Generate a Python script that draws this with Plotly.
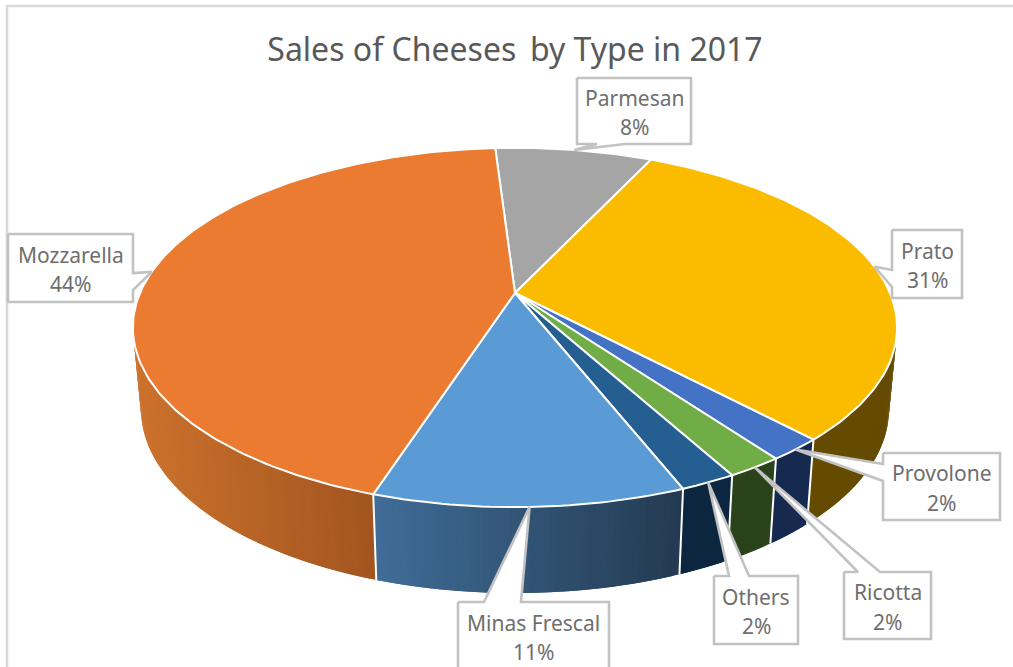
import numpy as np
import plotly.graph_objects as go

# Cheese sales shares, clockwise starting with Parmesan
cheeses = ["Parmesan", "Prato", "Provolone", "Ricotta", "Others", "Minas Frescal", "Mozzarella"]
shares = [8, 31, 2, 2, 2, 11, 44]

top_colors = ["#A5A5A5", "#FBBC00", "#4472C4", "#70AD47", "#255E91", "#5B9BD5", "#EB7B30"]
# Side wall colours: shade at the left and right end of each slice's visible wall
wall_colors = [
    ("#666666", "#666666"),
    ("#644B00", "#644B00"),
    ("#162A4F", "#162A4F"),
    ("#2A431B", "#2A431B"),
    ("#0D2640", "#0D2640"),
    ("#406D98", "#233A51"),
    ("#CC722D", "#A2551F"),
]

# Callout boxes (left, top, right, bottom) and where each tail meets its box
callout_boxes = {
    "Parmesan": (577, 78, 691, 144),
    "Prato": (892, 230, 962, 298),
    "Provolone": (883, 453, 1000, 520),
    "Ricotta": (844, 572, 931, 639),
    "Others": (714, 576, 798, 644),
    "Minas Frescal": (458, 602, 609, 670),
    "Mozzarella": (8, 234, 133, 302),
}
callout_tails = {
    "Parmesan": ("bottom", 597, 625),
    "Prato": ("left", 270, 287),
    "Provolone": ("left", 464, 481),
    "Ricotta": ("top", 858, 880),
    "Others": ("top", 729, 749),
    "Minas Frescal": ("top", 484, 521),
    "Mozzarella": ("right", 273, 290),
}

START_ANGLE = -3.6
CENTER_X = 515
TOP_Y, TOP_RX, TOP_RY = 293, 375, 173
BASE_Y, BASE_RX, BASE_RY = 374, 367, 177
TILT = 0.192
WALL_LIMIT = 101  # walls are visible between this angle and its mirror


def project(angle_deg, cy, rx, ry, radius=1.0):
    """Perspective projection of a point on the pie's disc, clockwise from the back."""
    a = np.radians(angle_deg)
    x, y = radius * np.sin(a), -radius * np.cos(a)
    d = 1 - TILT * y
    return CENTER_X + rx * x / d, cy + ry * y / d


def top_point(angle):
    return project(angle, TOP_Y, TOP_RX, TOP_RY)


def base_point(angle):
    return project(angle, BASE_Y, BASE_RX, BASE_RY)


def mix(c0, c1, t):
    a = [int(c0[i:i + 2], 16) for i in (1, 3, 5)]
    b = [int(c1[i:i + 2], 16) for i in (1, 3, 5)]
    return "rgb(%d,%d,%d)" % tuple(round(p + (q - p) * t) for p, q in zip(a, b))


def polygon(xs, ys, fill, line_color, line_width):
    return go.Scatter(
        x=list(xs), y=list(ys), mode="lines", fill="toself", fillcolor=fill,
        line=dict(color=line_color, width=line_width), hoverinfo="skip", showlegend=False,
    )


edges = START_ANGLE + np.concatenate([[0], np.cumsum(shares)]) * 3.6
fig = go.Figure()

# Side walls, built from strips that overlap the next one so no seams show
for i in range(len(shares)):
    lo = max(edges[i], WALL_LIMIT)
    hi = min(edges[i + 1], 360 - WALL_LIMIT)
    if hi <= lo:
        continue
    steps = np.linspace(lo, hi, max(2, int((hi - lo) * 1.2) + 2))
    sx = [base_point(a)[0] for a in (lo, hi)]
    x_left, x_right = min(sx), max(sx)
    for j in range(len(steps) - 1):
        a0, a1 = steps[j], steps[min(j + 2, len(steps) - 1)]
        mid_x = base_point((steps[j] + steps[j + 1]) / 2)[0]
        col = mix(*wall_colors[i], (mid_x - x_left) / max(x_right - x_left, 1))
        t0, t1, b1, b0 = top_point(a0), top_point(a1), base_point(a1), base_point(a0)
        fig.add_trace(polygon(
            [t0[0], t1[0], b1[0], b0[0], t0[0]],
            [t0[1], t1[1], b1[1], b0[1], t0[1]],
            col, col, 0,
        ))

# White separators between neighbouring walls
for e in edges:
    if WALL_LIMIT < e < 360 - WALL_LIMIT:
        t, b = top_point(e), base_point(e)
        fig.add_trace(go.Scatter(
            x=[t[0], b[0]], y=[t[1], b[1]], mode="lines",
            line=dict(color="white", width=2), hoverinfo="skip", showlegend=False,
        ))

# Top face of the pie
for i in range(len(shares)):
    arc = np.linspace(edges[i], edges[i + 1], int(shares[i] * 3.6) + 2)
    pts = [top_point(a) for a in arc]
    xs = [CENTER_X] + [p[0] for p in pts] + [CENTER_X]
    ys = [TOP_Y] + [p[1] for p in pts] + [TOP_Y]
    fig.add_trace(polygon(xs, ys, top_colors[i], "white", 2))

# Callouts whose tails point at the middle of each slice's rim
annotations = []
for i, name in enumerate(cheeses):
    left, top, right, bottom = callout_boxes[name]
    side, p, q = callout_tails[name]
    tip = top_point((edges[i] + edges[i + 1]) / 2)
    if side == "top":
        path = [(left, top), (p, top), tip, (q, top), (right, top), (right, bottom), (left, bottom)]
    elif side == "bottom":
        path = [(left, top), (right, top), (right, bottom), (q, bottom), tip, (p, bottom), (left, bottom)]
    elif side == "left":
        path = [(left, top), (right, top), (right, bottom), (left, bottom), (left, q), tip, (left, p)]
    else:
        path = [(left, top), (right, top), (right, p), tip, (right, q), (right, bottom), (left, bottom)]
    path.append(path[0])
    fig.add_trace(polygon([v[0] for v in path], [v[1] for v in path], "white", "#C2C2C2", 2.6))

    cx, cy = (left + right) / 2, (top + bottom) / 2
    for text, dy in ((name, -13.5), (f"{shares[i]}%", 16)):
        annotations.append(dict(
            x=cx, y=cy + dy, xref="x", yref="y", text=text, showarrow=False,
            xanchor="center", yanchor="middle",
            font=dict(family="Noto Sans", size=21, color="#6E6E6E"),
        ))

fig.update_layout(
    width=1013, height=667, margin=dict(l=0, r=0, t=0, b=0),
    paper_bgcolor="white", plot_bgcolor="white", showlegend=False,
    title=dict(
        text="Sales of Cheeses\u2009 by Type in 2017",
        x=515 / 1013, y=1 - 50 / 667, xanchor="center", yanchor="middle",
        font=dict(family="Noto Sans", size=32, color="#595959"),
    ),
    xaxis=dict(range=[0, 1013], visible=False, fixedrange=True),
    yaxis=dict(range=[667, 0], visible=False, fixedrange=True),
    annotations=annotations,
    shapes=[
        dict(type="line", x0=7, x1=7, y0=6, y1=667, line=dict(color="#D9D9D9", width=2.6), layer="below"),
        dict(type="line", x0=6, x1=1013, y0=6, y1=6, line=dict(color="#D9D9D9", width=2.6), layer="below"),
    ],
)

fig.write_html("out.html", config=dict(displayModeBar=False))
